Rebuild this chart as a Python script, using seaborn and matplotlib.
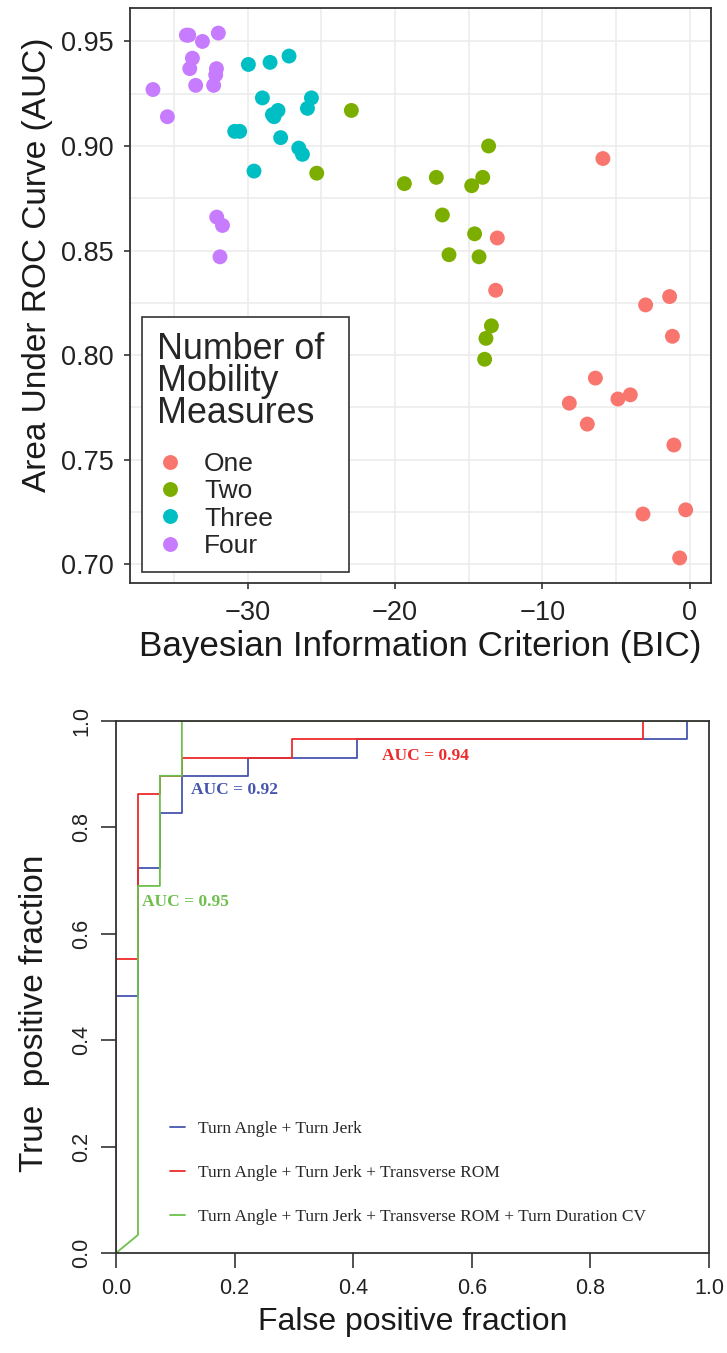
import numpy as np
import pandas as pd
import seaborn as sns
import matplotlib.pyplot as plt
from matplotlib.lines import Line2D
from matplotlib.ticker import MultipleLocator

# ---------------------------------------------------------
# Top panel: BIC vs AUC, by number of mobility measures
# ---------------------------------------------------------
groups = ["One", "Two", "Three", "Four"]
group_colors = ["#F8766D", "#7CAE00", "#00BFC4", "#C77CFF"]

bic_one = [-5.89, -13.06, -13.17, -2.99, -1.36, -1.17, -6.40, -8.17,
           -4.87, -4.03, -6.95, -1.07, -3.17, -0.27, -0.68]
auc_one = [0.894, 0.856, 0.831, 0.824, 0.828, 0.809, 0.789, 0.777,
           0.779, 0.781, 0.767, 0.757, 0.724, 0.726, 0.703]

bic_two = [-22.97, -25.32, -19.37, -17.20, -13.65, -14.05, -14.80,
           -16.79, -14.60, -16.34, -14.30, -13.46, -13.83, -13.92]
auc_two = [0.917, 0.887, 0.882, 0.885, 0.900, 0.885, 0.881,
           0.867, 0.858, 0.848, 0.847, 0.814, 0.808, 0.798]

bic_three = [-29.96, -28.49, -27.20, -29.01, -25.68, -25.95, -27.95, -28.33,
             -28.22, -30.89, -30.55, -27.77, -26.54, -26.29, -29.58]
auc_three = [0.939, 0.940, 0.943, 0.923, 0.923, 0.918, 0.917, 0.915,
             0.914, 0.907, 0.907, 0.904, 0.899, 0.896, 0.888]

bic_four = [-34.17, -34.01, -33.08, -32.00, -33.76, -33.94, -33.54, -32.13,
            -32.18, -32.32, -36.44, -35.46, -32.11, -31.72, -31.89]
auc_four = [0.953, 0.953, 0.950, 0.954, 0.942, 0.937, 0.929, 0.937,
            0.934, 0.929, 0.927, 0.914, 0.866, 0.862, 0.847]

# ---------------------------------------------------------
# Bottom panel: ROC curve vertices for the three models
# ---------------------------------------------------------
roc_labels = ["Turn Angle + Turn Jerk",
              "Turn Angle + Turn Jerk + Transverse ROM",
              "Turn Angle + Turn Jerk + Transverse ROM + Turn Duration CV"]
roc_colors = ["#4655B0", "#EE2B2B", "#6DC04B"]

fpr_a = [0, 0, 0.037, 0.037, 0.074, 0.074, 0.111, 0.111, 0.222, 0.222, 0.407, 0.407, 0.963, 0.963, 1.0]
tpr_a = [0, 0.483, 0.483, 0.724, 0.724, 0.828, 0.828, 0.897, 0.897, 0.931, 0.931, 0.966, 0.966, 1.0, 1.0]

fpr_b = [0, 0, 0.037, 0.037, 0.074, 0.074, 0.111, 0.111, 0.296, 0.296, 0.889, 0.889, 1.0]
tpr_b = [0, 0.552, 0.552, 0.862, 0.862, 0.897, 0.897, 0.931, 0.931, 0.966, 0.966, 1.0, 1.0]

fpr_c = [0, 0.037, 0.037, 0.074, 0.074, 0.111, 0.111, 1.0]
tpr_c = [0, 0.034, 0.690, 0.690, 0.897, 0.897, 1.0, 1.0]

auc_text = ["AUC = 0.92", "AUC = 0.94", "AUC = 0.95"]
auc_text_pos = [(0.126, 0.870), (0.448, 0.935), (0.044, 0.660)]

# ---------------------------------------------------------
# Build tables
# ---------------------------------------------------------
scatter_df = pd.concat([
    pd.DataFrame({"BIC": b, "AUC": a, "n": g})
    for g, b, a in zip(groups, [bic_one, bic_two, bic_three, bic_four],
                       [auc_one, auc_two, auc_three, auc_four])
], ignore_index=True)

roc_df = pd.concat([
    pd.DataFrame({"fpr": f, "tpr": t, "model": m})
    for m, f, t in zip(roc_labels, [fpr_a, fpr_b, fpr_c], [tpr_a, tpr_b, tpr_c])
], ignore_index=True)

# ---------------------------------------------------------
# Styling
# ---------------------------------------------------------
sns.set_style("whitegrid")
plt.rcParams["font.family"] = ["Liberation Sans", "DejaVu Sans"]

fig = plt.figure(figsize=(7.27, 13.53), dpi=100)
ax1 = fig.add_axes([0.1788, 0.5691, 0.7992, 0.4250])
ax2 = fig.add_axes([0.1596, 0.0739, 0.8157, 0.3932])

# ---------------------------------------------------------
# Top panel
# ---------------------------------------------------------
sns.scatterplot(data=scatter_df, x="BIC", y="AUC", hue="n", hue_order=groups,
                palette=group_colors, s=115, linewidth=0, ax=ax1)
ax1.set_xlim(-38.0, 1.45)
ax1.set_ylim(0.691, 0.966)
ax1.set_xticks([-30, -20, -10, 0])
ax1.set_xticklabels(["\u221230", "\u221220", "\u221210", "0"])
ax1.set_yticks([0.70, 0.75, 0.80, 0.85, 0.90, 0.95])
ax1.xaxis.set_minor_locator(MultipleLocator(5))
ax1.yaxis.set_minor_locator(MultipleLocator(0.025))
ax1.grid(which="both", color="#EBEBEB", linewidth=1.1)
ax1.tick_params(which="major", bottom=True, left=True, length=4, width=1.2,
                color="#333333", labelsize=19.5, labelcolor="#222222")
ax1.tick_params(axis="x", which="major", pad=8)
ax1.tick_params(axis="y", which="major", pad=8)
ax1.tick_params(which="minor", length=0)
for sp in ax1.spines.values():
    sp.set_color("#333333")
    sp.set_linewidth(1.3)
ax1.set_xlabel("Bayesian Information Criterion (BIC)", fontsize=25.2, color="#1a1a1a", labelpad=3)
ax1.set_ylabel("Area Under ROC Curve (AUC)", fontsize=24, color="#1a1a1a")
ax1.yaxis.set_label_coords(-0.132, 0.553)

leg1 = ax1.legend(title="Number of \nMobility\nMeasures", loc="lower left",
                  bbox_to_anchor=(0.021, 0.0187), fontsize=19, title_fontsize=25.8,
                  frameon=True, fancybox=False, framealpha=1, borderaxespad=0,
                  markerscale=1.0, handletextpad=0.8, labelspacing=0.12,
                  borderpad=0.55, handlelength=1.0)
leg1._legend_box.align = "left"
leg1._legend_box.sep = 15
leg1.get_title().set_linespacing(0.9)
leg1.get_frame().set_edgecolor("#333333")
leg1.get_frame().set_linewidth(1.2)

# ---------------------------------------------------------
# Bottom panel
# ---------------------------------------------------------
sns.lineplot(data=roc_df, x="fpr", y="tpr", hue="model", hue_order=roc_labels,
             palette=roc_colors, estimator=None, sort=False,
             linewidth=1.3, legend=False, ax=ax2)
ax2.set_xlim(0, 1)
ax2.set_ylim(0, 1)
ax2.grid(False)
ax2.set_xticks(np.arange(0, 1.01, 0.2))
ax2.set_yticks(np.arange(0, 1.01, 0.2))
ax2.set_xticklabels(["0.0", "0.2", "0.4", "0.6", "0.8", "1.0"])
ax2.set_yticklabels(["0.0", "0.2", "0.4", "0.6", "0.8", "1.0"], rotation=90, va="center")
ax2.tick_params(bottom=True, left=True, length=11, width=1.2, color="#333333",
                labelsize=15.5, labelcolor="#222222")
ax2.tick_params(axis="x", pad=7)
ax2.tick_params(axis="y", pad=6)
for sp in ax2.spines.values():
    sp.set_color("#333333")
    sp.set_linewidth(1.3)
ax2.set_xlabel("False positive fraction", fontsize=23, color="#1a1a1a", labelpad=6)
ax2.set_ylabel("True  positive fraction", fontsize=24, color="#1a1a1a")
ax2.yaxis.set_label_coords(-0.112, 0.45)

for txt, (tx, ty), col in zip(auc_text, auc_text_pos, roc_colors):
    ax2.text(tx, ty, txt, color=col, fontsize=12.5, fontweight="bold",
             family=["Liberation Serif", "DejaVu Serif"], va="center", ha="left")

handles = [Line2D([0], [0], color=c, lw=1.3) for c in roc_colors]
ax2.legend(handles, roc_labels, loc="lower left", bbox_to_anchor=(0.079, 0.04),
           frameon=False, handlelength=0.9, handletextpad=0.75, labelspacing=1.6,
           borderaxespad=0, prop={"family": ["Liberation Serif", "DejaVu Serif"], "size": 12.5})

fig.savefig("out.png", dpi=100)
